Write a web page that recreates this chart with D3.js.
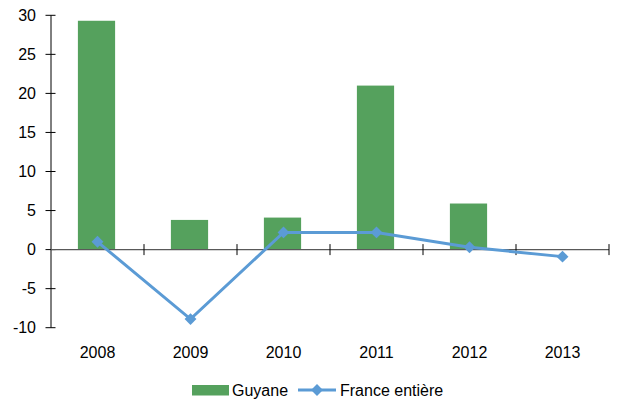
<!DOCTYPE html>
<html>
<head>
<meta charset="utf-8">
<script src="https://cdn.jsdelivr.net/npm/d3@7"></script>
<style>
  body { margin: 0; background: #fff; }
  svg { display: block; font-family: "Liberation Sans", Arial, sans-serif; }
</style>
</head>
<body>
<div id="chart"></div>
<script>
// données
const years = ["2008", "2009", "2010", "2011", "2012", "2013"];
const guyane = [29.3, 3.8, 4.1, 21.0, 5.9, null];
const franceEntiere = [1.0, -8.9, 2.2, 2.2, 0.3, -0.9];
const yTicks = [30, 25, 20, 15, 10, 5, 0, -5, -10];

const width = 618, height = 401;
const margin = { left: 51, right: 9, top: 15.3, bottom: 73.3 };
const fontSize = 16;

const svg = d3.select('#chart').append('svg')
    .attr('width', width)
    .attr('height', height);

const x = d3.scaleBand()
    .domain(years)
    .range([margin.left, width - margin.right]);

const y = d3.scaleLinear()
    .domain([-10, 30])
    .range([height - margin.bottom, margin.top]);

const cx = d => x(d) + x.bandwidth() / 2;
const barW = x.bandwidth() * 0.4;

// barres Guyane
svg.append('g')
    .selectAll('rect')
    .data(years.map((d, i) => ({ year: d, v: guyane[i] })).filter(d => d.v != null))
    .enter().append('rect')
    .attr('x', d => cx(d.year) - barW / 2 - 1)
    .attr('width', barW)
    .attr('y', d => y(Math.max(0, d.v)))
    .attr('height', d => Math.abs(y(d.v) - y(0)))
    .attr('fill', '#55a15d');

// axe Y
const yAxis = svg.append('g')
    .attr('transform', `translate(${margin.left},0)`);
yAxis.append('line')
    .attr('y1', y(30)).attr('y2', y(-10))
    .attr('stroke', '#000').attr('stroke-width', 1);
yAxis.selectAll('line.tick')
    .data(yTicks)
    .enter().append('line')
    .attr('class', 'tick')
    .attr('x1', -5.5).attr('x2', 4.5)
    .attr('y1', d => y(d)).attr('y2', d => y(d))
    .attr('stroke', '#000');
yAxis.selectAll('text')
    .data(yTicks)
    .enter().append('text')
    .attr('x', -15)
    .attr('y', d => y(d))
    .attr('dy', '0.35em')
    .attr('text-anchor', 'end')
    .attr('font-size', fontSize)
    .attr('fill', '#000')
    .text(d => d);

// axe X (à zéro)
const xAxis = svg.append('g')
    .attr('transform', `translate(0,${y(0)})`);
xAxis.append('line')
    .attr('x1', margin.left).attr('x2', width - margin.right)
    .attr('stroke', '#595959').attr('stroke-width', 1.3);
xAxis.selectAll('line.tick')
    .data(years)
    .enter().append('line')
    .attr('class', 'tick')
    .attr('x1', d => x(d) + x.bandwidth())
    .attr('x2', d => x(d) + x.bandwidth())
    .attr('y1', -5.5).attr('y2', 5.5)
    .attr('stroke', '#000');

svg.append('g')
    .selectAll('text')
    .data(years)
    .enter().append('text')
    .attr('x', d => cx(d))
    .attr('y', 358)
    .attr('text-anchor', 'middle')
    .attr('font-size', fontSize)
    .attr('fill', '#000')
    .text(d => d);

// ligne France entière
const line = d3.line()
    .x((d, i) => cx(years[i]))
    .y(d => y(d));

svg.append('path')
    .datum(franceEntiere)
    .attr('d', line)
    .attr('fill', 'none')
    .attr('stroke', '#5b9bd5')
    .attr('stroke-width', 3);

const diamond = d3.symbol().type(d3.symbolDiamond2).size(90);
svg.append('g')
    .selectAll('path')
    .data(franceEntiere)
    .enter().append('path')
    .attr('d', diamond)
    .attr('transform', (d, i) => `translate(${cx(years[i])},${y(d)})`)
    .attr('fill', '#5b9bd5');

// légende
const legend = svg.append('g');
legend.append('rect')
    .attr('x', 192).attr('y', 385)
    .attr('width', 37).attr('height', 10.5)
    .attr('fill', '#55a15d');
legend.append('text')
    .attr('x', 232).attr('y', 395.5)
    .attr('font-size', fontSize)
    .text('Guyane');
legend.append('line')
    .attr('x1', 298).attr('x2', 336)
    .attr('y1', 390).attr('y2', 390)
    .attr('stroke', '#5b9bd5').attr('stroke-width', 3);
legend.append('path')
    .attr('d', diamond)
    .attr('transform', 'translate(317,390)')
    .attr('fill', '#5b9bd5');
legend.append('text')
    .attr('x', 340).attr('y', 395.5)
    .attr('font-size', fontSize)
    .text('France entière');
</script>
</body>
</html>
